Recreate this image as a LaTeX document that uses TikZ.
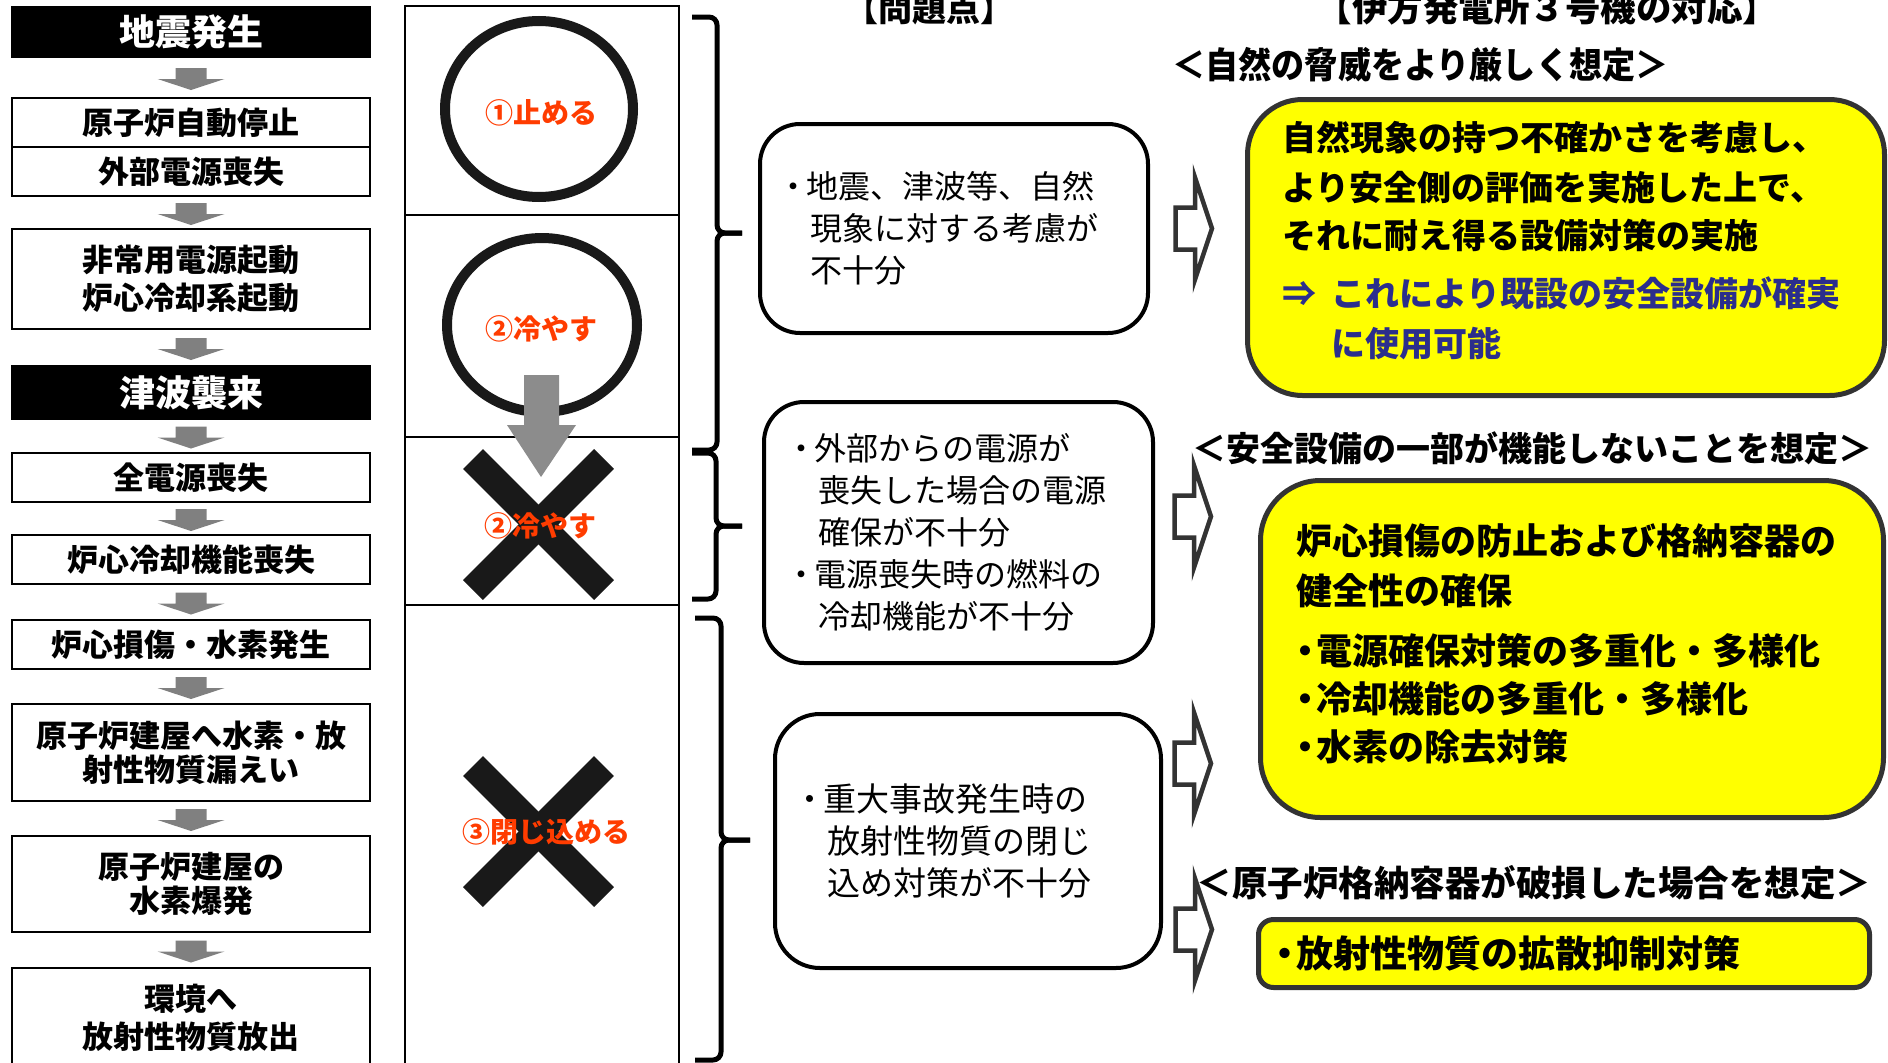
\documentclass[tikz,border=0pt]{standalone}
\usepackage{fontspec}
\newfontfamily\jp{Noto Sans CJK JP}
\usetikzlibrary{shapes.geometric,calc}
\definecolor{redtxt}{RGB}{255,60,0}
\definecolor{navy}{RGB}{43,46,140}
\definecolor{ybox}{RGB}{255,255,0}
\definecolor{dgray}{RGB}{51,51,51}
\definecolor{garrowc}{RGB}{128,128,128}
\definecolor{darr}{RGB}{140,140,140}
\newcommand\pbul{\makebox[26pt][c]{・}}
\newcommand\pind{\hspace*{30pt}}
\newcommand\ybul{\makebox[22pt][c]{・}}
\tikzset{
  flow/.style={draw=black, line width=2pt, fill=white, minimum width=358pt, inner sep=0pt,
    align=center, font=\jp\bfseries\fontsize{31}{37}\selectfont},
  title/.style={flow, fill=black, text=white, font=\jp\bfseries\fontsize{36}{40}\selectfont},
  cell/.style={draw=black, line width=2pt, minimum width=274pt, inner sep=0pt},
  ring/.style={ellipse, draw=black!90, line width=10pt, inner sep=0pt},
  redlbl/.style={text=redtxt, font=\jp\bfseries\fontsize{28}{30}\selectfont, inner sep=0pt},
  xbar/.style={line width=28pt, draw=black!90},
  prob/.style={draw=black, line width=4pt, rounded corners=40pt, fill=white, align=left,
    inner ysep=0pt, font=\jp\fontsize{32}{42}\selectfont},
  brace/.style={line width=5pt, rounded corners=8pt, line join=round},
  sol/.style={draw=dgray, line width=5pt, fill=ybox},
  hdr/.style={font=\jp\bfseries\fontsize{34}{40}\selectfont, inner sep=0pt, anchor=base},
  yl/.style={inner sep=0pt, anchor=base west},
  garrow/.pic={\fill[garrowc] (-15.5,-11) -- (15.5,-11) -- (15.5,0) -- (33.5,0) -- (0,11)
     -- (-33.5,0) -- (-15.5,0) -- cycle;},
  oarrow/.pic={\draw[dgray, line width=4.5pt, fill=white, line join=miter]
     (-19.5,-21) -- (0,-21) -- (0,-51) -- (17,0) -- (0,51) -- (0,21) -- (-19.5,21) -- cycle;}
}
\begin{document}
\begin{tikzpicture}[x=1pt,y=-1pt]
\useasboundingbox (0,0) rectangle (1888,1063);
\clip (0,0) rectangle (1888,1063);
\fill[white] (0,0) rectangle (1888,1063);

% ---------------- left flow column
\node[title, minimum height=50pt] (b0) at (191,32) {地震発生};
\node[flow, minimum height=49pt] (b1) at (191,122.5) {原子炉自動停止};
\node[flow, minimum height=49pt] (b2) at (191,171.5) {外部電源喪失};
\node[flow, minimum height=100pt, font=\jp\bfseries\fontsize{31}{38}\selectfont] (b3) at (191,279) {非常用電源起動\\炉心冷却系起動};
\node[title, minimum height=53pt] (b4) at (191,392.5) {津波襲来};
\node[flow, minimum height=49pt] (b5) at (191,477.5) {全電源喪失};
\node[flow, minimum height=49pt] (b6) at (191,559.5) {炉心冷却機能喪失};
\node[flow, minimum height=49pt] (b7) at (191,644.5) {炉心損傷・水素発生};
\node[flow, minimum height=97pt, font=\jp\bfseries\fontsize{31}{34}\selectfont] (b8) at (191,752.5) {原子炉建屋へ水素・放\\射性物質漏えい};
\node[flow, minimum height=96pt, font=\jp\bfseries\fontsize{31}{34}\selectfont] (b9) at (191,884) {原子炉建屋の\\水素爆発};
\node[flow, minimum height=100pt, font=\jp\bfseries\fontsize{31}{38}\selectfont] (b10) at (191,1018) {環境へ\\放射性物質放出};
\foreach \a/\b in {b0/b1,b2/b3,b3/b4,b4/b5,b5/b6,b6/b7,b7/b8,b8/b9,b9/b10}
  \pic at ($(\a.south)!0.5!(\b.north)+(0,1.5)$) {garrow};

% ---------------- middle column (cells)
\node[cell, minimum height=209pt] (c1) at (542,110.5) {};
\node[cell, minimum height=222pt] (c2) at (542,326) {};
\node[cell, minimum height=168pt] (c3) at (542,521) {};
\node[cell, minimum height=475pt] (c4) at (542,842.5) {};
\node[ring, minimum width=188pt, minimum height=176pt] (o1) at (539,109) {};
\node[ring, minimum width=190pt, minimum height=174pt] (o2) at (542,325) {};
\draw[xbar] (473,459) -- (604,590);
\draw[xbar] (473,590) -- (604,459);
\draw[xbar] (473,766) -- (604,897);
\draw[xbar] (473,897) -- (604,766);
\fill[darr] (524,375) -- (559,375) -- (559,425) -- (576,425) -- (541,477) -- (507,425) -- (524,425) -- cycle;
\node[redlbl] (l1) at (541,112.5) {①止める};
\node[redlbl] (l2) at (541,329) {②冷やす};
\node[redlbl] (l3) at (540,526) {②冷やす};
\node[redlbl] (l4) at (546,832) {③閉じ込める};

% ---------------- braces
\draw[brace] (692,17) -- (717,17) -- (717,233) -- (742,233);
\draw[brace] (692,450) -- (717,450) -- (717,233) -- (742,233);
\draw[brace] (692,453) -- (716,453) -- (716,526) -- (742,526);
\draw[brace] (692,599) -- (716,599) -- (716,526) -- (742,526);
\draw[brace] (695,618) -- (721,618) -- (721,840) -- (750,840);
\draw[brace] (695,1060) -- (721,1060) -- (721,840) -- (750,840);

% ---------------- headers
\node[hdr] (h1) at (929,21) {【問題点】};
\node[hdr, font=\jp\bfseries\fontsize{35.5}{40}\selectfont] (h2) at (1547.5,21) {【伊方発電所３号機の対応】};

% ---------------- problem boxes
\node[prob, minimum height=209pt, text width=348pt, inner xsep=20pt] (pA) at (954,228.5)
  {\pbul 地震、津波等、自然\\\pind 現象に対する考慮が\\\pind 不十分};
\node[prob, minimum height=261pt, text width=340pt, inner xsep=24.5pt] (pB) at (958.5,532.5)
  {\pbul 外部からの電源が\\\pind 喪失した場合の電源\\\pind 確保が不十分\\\pbul 電源喪失時の燃料の\\\pind 冷却機能が不十分};
\node[prob, rounded corners=45pt, minimum height=254pt, text width=342pt, inner xsep=22pt,
  font=\jp\fontsize{33}{42}\selectfont] (pC) at (968,841)
  {\pbul 重大事故発生時の\\\pind 放射性物質の閉じ\\\pind 込め対策が不十分};

% ---------------- open arrows
\pic at (1195,228.5) {oarrow};
\pic at (1194,516.5) {oarrow};
\pic at (1194,763.5) {oarrow};
\pic at (1195,929.5) {oarrow};

% ---------------- solution boxes
\node[sol, rounded corners=55pt, minimum width=637pt, minimum height=296pt] (Y1) at (1566,247.5) {};
\node[sol, rounded corners=60pt, minimum width=623pt, minimum height=337pt] (Y2) at (1572,649) {};
\node[sol, rounded corners=15pt, minimum width=611pt, minimum height=68pt] (Y3) at (1564,953.5) {};

\node[hdr, font=\jp\bfseries\fontsize{36}{40}\selectfont] (s1) at (1420.5,78.7) {\scalebox{0.92}[1]{＜自然の脅威をより厳しく想定＞}};
\node[hdr, font=\jp\bfseries\fontsize{34}{40}\selectfont] (s2) at (1532.5,461) {＜安全設備の一部が機能しないことを想定＞};
\node[hdr, font=\jp\bfseries\fontsize{35.5}{40}\selectfont] (s3) at (1534,896) {＜原子炉格納容器が破損した場合を想定＞};

\begin{scope}[every node/.append style={font=\jp\bfseries\fontsize{34}{40}\selectfont}]
\node[yl] (y1a) at (1282,150) {自然現象の持つ不確かさを考慮し、};
\node[yl] (y1b) at (1282,200) {より安全側の評価を実施した上で、};
\node[yl] (y1c) at (1282,248) {それに耐え得る設備対策の実施};
\node[yl, text=navy] (y1d) at (1282,306) {⇒};
\node[yl, text=navy] (y1e) at (1331,306) {これにより既設の安全設備が確実};
\node[yl, text=navy] (y1f) at (1331,356) {に使用可能};
\end{scope}
\begin{scope}[every node/.append style={font=\jp\bfseries\fontsize{36}{40}\selectfont}]
\node[yl] (y2a) at (1296,554.7) {炉心損傷の防止および格納容器の};
\node[yl] (y2b) at (1296,604.7) {健全性の確保};
\node[yl] (y2c) at (1294,664.7) {\ybul 電源確保対策の多重化・多様化};
\node[yl] (y2d) at (1294,712.7) {\ybul 冷却機能の多重化・多様化};
\node[yl] (y2e) at (1294,760.7) {\ybul 水素の除去対策};
\node[yl, font=\jp\bfseries\fontsize{37}{40}\selectfont] (y3a) at (1274,967) {\ybul 放射性物質の拡散抑制対策};
\end{scope}
\end{tikzpicture}
\end{document}
